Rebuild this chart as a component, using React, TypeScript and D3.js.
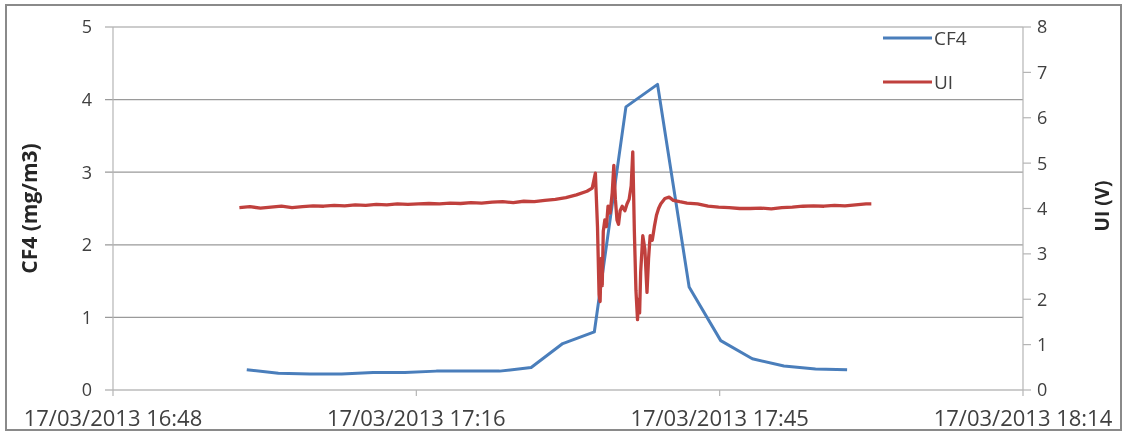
import React, { useRef, useEffect } from "react";
import * as d3 from "d3";

// CF4 concentration, sampled every 3 min (minutes after 17:00)
const cf4Minutes = [0.7, 3.7, 6.7, 9.7, 12.7, 15.7, 18.7, 21.7, 24.7, 27.7, 30.7, 33.7, 36.7, 39.7, 42.7, 45.7, 48.7, 51.7, 54.7, 57.7];
const cf4Values = [0.28, 0.23, 0.22, 0.22, 0.24, 0.24, 0.26, 0.26, 0.26, 0.31, 0.64, 0.8, 3.9, 4.21, 1.42, 0.68, 0.43, 0.33, 0.29, 0.28];

// UI voltage (minutes after 17:00)
const uiMinutes = [
  0, 1, 2, 3, 4, 5, 6, 7, 8, 9, 10, 11, 12, 13, 14, 15, 16, 17, 18, 19, 20, 21, 22, 23, 24, 25, 26, 27, 28, 29, 30, 31, 32, 33,
  33.5, 33.8, 34.0, 34.15, 34.25, 34.35, 34.45, 34.55, 34.7, 34.85, 35.0, 35.2, 35.4, 35.55, 35.7, 35.85, 36.0, 36.15, 36.35, 36.6, 36.8,
  37.0, 37.2, 37.35, 37.5, 37.65, 37.8, 37.9, 38.0, 38.1, 38.3, 38.5, 38.7, 38.85, 39.0, 39.2, 39.4, 39.6, 39.8, 40.0, 40.4, 40.8,
  41.2, 41.8, 42.5, 43.5, 44.5, 45.5, 46.5, 47.5, 48.5, 49.5, 50.5, 51.5, 52.5, 53.5, 54.5, 55.5, 56.5, 57.5, 58.5, 59.5, 60.0,
];
const uiValues = [
  4.02, 4.04, 4.01, 4.03, 4.05, 4.02, 4.04, 4.06, 4.05, 4.07, 4.06, 4.08, 4.07, 4.09, 4.08, 4.1, 4.09, 4.1, 4.11, 4.1, 4.12, 4.11, 4.13, 4.12, 4.14, 4.15, 4.13, 4.16, 4.15, 4.18, 4.2, 4.24, 4.3, 4.38,
  4.45, 4.78, 3.6, 2.1, 1.95, 2.9, 2.3, 3.5, 3.75, 3.6, 4.05, 3.9, 4.35, 4.95, 4.2, 3.75, 3.65, 3.95, 4.05, 3.95, 4.1,
  4.2, 4.5, 5.25, 3.5, 2.2, 1.55, 2.0, 1.7, 2.6, 3.4, 3.1, 2.15, 2.9, 3.4, 3.3, 3.6, 3.85, 4.0, 4.1, 4.22, 4.25,
  4.18, 4.15, 4.12, 4.1, 4.05, 4.03, 4.02, 4.0, 4.0, 4.01, 3.99, 4.02, 4.03, 4.05, 4.06, 4.05, 4.07, 4.06, 4.08, 4.1, 4.1,
];

const leftTicks = [0, 1, 2, 3, 4, 5];
const rightTicks = [0, 1, 2, 3, 4, 5, 6, 7, 8];
const seriesNames = ["CF4", "UI"];

const base = new Date(2013, 2, 17, 17, 0, 0);
const toDate = (m: number) => new Date(base.getTime() + m * 60000);

const App = () => {
  const svgRef = useRef<SVGSVGElement>(null);

  useEffect(() => {
    const svg = d3.select(svgRef.current);
    svg.selectAll("*").remove();

    const width = 1124;
    const height = 439;
    const margin = { top: 27, right: 101, bottom: 49, left: 113 };
    const font = "'Open Sans', sans-serif";
    const textColor = "#404040";

    const xStart = new Date(2013, 2, 17, 16, 48, 0);
    const xEnd = new Date(2013, 2, 17, 18, 14, 24);
    const x = d3
      .scaleTime()
      .domain([xStart, xEnd])
      .range([margin.left, width - margin.right]);

    const yLeft = d3
      .scaleLinear()
      .domain([0, 5])
      .range([height - margin.bottom, margin.top]);

    const yRight = d3
      .scaleLinear()
      .domain([0, 8])
      .range([height - margin.bottom, margin.top]);

    // cadre extérieur
    svg
      .append("rect")
      .attr("x", 6)
      .attr("y", 5)
      .attr("width", 1115)
      .attr("height", 425)
      .attr("fill", "white")
      .attr("stroke", "#8a8a8a")
      .attr("stroke-width", 2);

    // grille horizontale + graduations gauche
    svg
      .append("g")
      .selectAll("line")
      .data(leftTicks)
      .join("line")
      .attr("x1", margin.left - 8)
      .attr("x2", width - margin.right)
      .attr("y1", (d) => yLeft(d))
      .attr("y2", (d) => yLeft(d))
      .attr("stroke", "#9a9a9a")
      .attr("stroke-width", 1.2);

    svg
      .append("g")
      .selectAll("text")
      .data(leftTicks)
      .join("text")
      .attr("x", margin.left - 21)
      .attr("y", (d) => yLeft(d))
      .attr("dy", "0.36em")
      .attr("text-anchor", "end")
      .attr("font-family", font)
      .attr("font-size", 18)
      .attr("fill", textColor)
      .text((d) => d);

    // axe gauche
    svg
      .append("line")
      .attr("x1", margin.left)
      .attr("x2", margin.left)
      .attr("y1", margin.top)
      .attr("y2", height - margin.bottom)
      .attr("stroke", "#b5b5b5")
      .attr("stroke-width", 1.2);

    // axe droit
    svg
      .append("line")
      .attr("x1", width - margin.right)
      .attr("x2", width - margin.right)
      .attr("y1", margin.top)
      .attr("y2", height - margin.bottom)
      .attr("stroke", "#b5b5b5")
      .attr("stroke-width", 1.2);

    svg
      .append("g")
      .selectAll("line")
      .data(rightTicks)
      .join("line")
      .attr("x1", width - margin.right)
      .attr("x2", width - margin.right + 8)
      .attr("y1", (d) => yRight(d))
      .attr("y2", (d) => yRight(d))
      .attr("stroke", "#b5b5b5")
      .attr("stroke-width", 1.2);

    svg
      .append("g")
      .selectAll("text")
      .data(rightTicks)
      .join("text")
      .attr("x", width - margin.right + 14)
      .attr("y", (d) => yRight(d))
      .attr("dy", "0.36em")
      .attr("text-anchor", "start")
      .attr("font-family", font)
      .attr("font-size", 18)
      .attr("fill", textColor)
      .text((d) => d);

    // axe x
    const xTicks = [0, 1, 2, 3].map((i) => new Date(xStart.getTime() + i * 28.8 * 60000));
    const fmt = d3.timeFormat("%d/%m/%Y %H:%M");
    svg
      .append("g")
      .selectAll("line")
      .data(xTicks)
      .join("line")
      .attr("x1", (d) => x(d))
      .attr("x2", (d) => x(d))
      .attr("y1", height - margin.bottom)
      .attr("y2", height - margin.bottom + 6)
      .attr("stroke", "#b5b5b5")
      .attr("stroke-width", 1.2);

    svg
      .append("g")
      .selectAll("text")
      .data(xTicks)
      .join("text")
      .attr("x", (d) => x(d))
      .attr("y", height - margin.bottom + 36)
      .attr("text-anchor", "middle")
      .attr("font-family", font)
      .attr("font-size", 22)
      .attr("fill", textColor)
      .text((d) => fmt(d));

    // titres des axes
    svg
      .append("text")
      .attr("transform", `translate(30,${(margin.top + height - margin.bottom) / 2}) rotate(-90)`)
      .attr("text-anchor", "middle")
      .attr("dy", "0.35em")
      .attr("font-family", font)
      .attr("font-weight", "bold")
      .attr("font-size", 21)
      .attr("fill", "#262626")
      .text("CF4 (mg/m3)");

    svg
      .append("text")
      .attr("transform", `translate(1102,206) rotate(-90)`)
      .attr("text-anchor", "middle")
      .attr("dy", "0.35em")
      .attr("font-family", font)
      .attr("font-weight", "bold")
      .attr("font-size", 19)
      .attr("fill", "#262626")
      .text("UI (V)");

    // courbes
    const cf4Data = cf4Minutes.map((m, i) => ({ t: toDate(m), v: cf4Values[i] }));
    const uiData = uiMinutes.map((m, i) => ({ t: toDate(m), v: uiValues[i] }));

    const cf4Line = d3
      .line<{ t: Date; v: number }>()
      .x((d) => x(d.t))
      .y((d) => yLeft(d.v));

    const uiLine = d3
      .line<{ t: Date; v: number }>()
      .x((d) => x(d.t))
      .y((d) => yRight(d.v));

    svg
      .append("path")
      .datum(cf4Data)
      .attr("fill", "none")
      .attr("stroke", "#4a7ebb")
      .attr("stroke-width", 3)
      .attr("stroke-linejoin", "round")
      .attr("d", cf4Line);

    svg
      .append("path")
      .datum(uiData)
      .attr("fill", "none")
      .attr("stroke", "#c0403d")
      .attr("stroke-width", 3.3)
      .attr("stroke-linejoin", "round")
      .attr("d", uiLine);

    // légende
    const colors = ["#4a7ebb", "#c0403d"];
    const legend = svg.append("g").attr("transform", "translate(883, 38)");
    seriesNames.forEach((name, i) => {
      legend
        .append("line")
        .attr("x1", 0)
        .attr("x2", 49)
        .attr("y1", i * 44)
        .attr("y2", i * 44)
        .attr("stroke", colors[i])
        .attr("stroke-width", 3);
      legend
        .append("text")
        .attr("x", 51)
        .attr("y", i * 44)
        .attr("dy", "0.36em")
        .attr("font-family", font)
        .attr("font-size", 19)
        .attr("fill", textColor)
        .text(name);
    });
  }, []);

  return (
    <div style={{ position: "fixed", left: 0, top: 0 }}>
      <svg ref={svgRef} width={1124} height={439}></svg>
    </div>
  );
};

export default App;
